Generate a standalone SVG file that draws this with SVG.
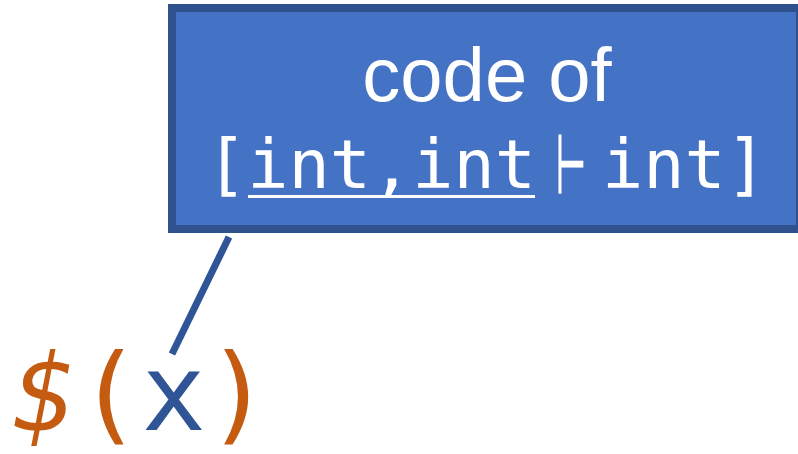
<svg xmlns="http://www.w3.org/2000/svg" width="798" height="454" viewBox="0 0 798 454">
  <style>
    .box { fill: #4472C4; stroke: #2F528F; stroke-width: 8; }
    .label { fill: #FFFFFF; font-family: "Liberation Sans", Arial, sans-serif; font-size: 76px; }
    .mono { fill: #FFFFFF; font-family: "DejaVu Sans Mono", "Liberation Mono", monospace; font-size: 68.5px; }
    .sym { fill: #FFFFFF; stroke: #FFFFFF; stroke-width: 1.4; font-family: "DejaVu Sans", "Noto Sans", sans-serif; font-size: 68.5px; }
    .expr { font-family: "DejaVu Sans Mono", "Liberation Mono", monospace; font-size: 107px; }
    .orange { fill: #C55A11; }
    .blue { fill: #2F5597; }
    .link { stroke: #2F5597; stroke-width: 7; fill: none; }
  </style>

  <!-- code box -->
  <g id="code-box">
    <rect class="box" x="172" y="8" width="628" height="221"/>
    <text class="label" x="487" y="101" text-anchor="middle">code of</text>
    <text class="mono" x="206" y="188">[int,int</text>
    <!-- turnstile, narrowed to fit between the words -->
    <text class="sym" x="0" y="0" text-anchor="middle" transform="translate(571,193) scale(0.5,1.2)">⊢</text>
    <text class="mono" x="602" y="188">int]</text>
    <line x1="248" y1="196.5" x2="535" y2="196.5" stroke="#FFFFFF" stroke-width="3"/>
  </g>

  <!-- expression -->
  <g id="expression">
    <text class="expr" x="12.75" y="430"><tspan class="orange" font-style="oblique">$</tspan><tspan class="orange">(</tspan><tspan class="blue">x</tspan><tspan class="orange">)</tspan></text>
  </g>

  <!-- connector from box to x -->
  <g id="connectors">
    <line class="link" x1="229" y1="237" x2="172" y2="354"/>
  </g>
</svg>
